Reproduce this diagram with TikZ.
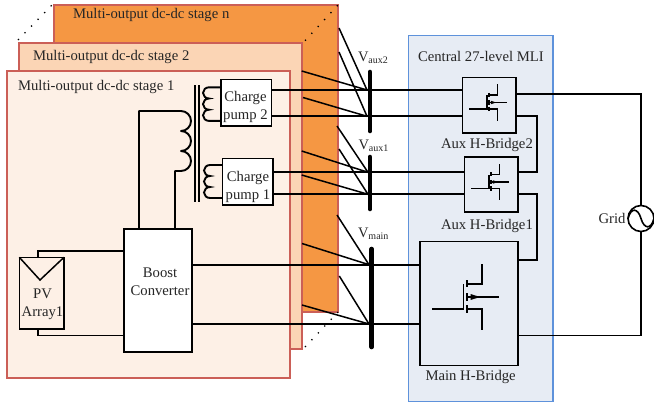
\documentclass[tikz,border=0pt]{standalone}
\usepackage{fontspec}
\setmainfont{Liberation Serif}
\usetikzlibrary{arrows.meta}
\definecolor{stageone}{HTML}{FDF0E6}
\definecolor{stagetwo}{HTML}{FBD5B5}
\definecolor{stagen}{HTML}{F59743}
\definecolor{stageedge}{HTML}{CB5F57}
\definecolor{mlifill}{HTML}{E7ECF4}
\definecolor{mliedge}{HTML}{5E92DB}
\definecolor{ink}{HTML}{262626}
\newcommand{\vlabel}[2]{{\fontsize{14.5}{14}\selectfont #1}\raisebox{-1.5pt}{\fontsize{10}{10}\selectfont #2}}
\tikzset{
  x=1pt,y=-1pt,
  every node/.style={outer sep=0pt},
  stagebox/.style={draw=stageedge,line width=1.5pt,inner sep=0,anchor=north west},
  mlibox/.style={draw=mliedge,fill=mlifill,line width=1.4pt,inner sep=0,anchor=north west},
  blockbox/.style={draw=black,fill=white,line width=1.6pt,inner sep=0,anchor=north west},
  boostbox/.style={draw=black,fill=white,line width=2pt,inner sep=0,anchor=north west},
  bridgebox/.style={draw=black,line width=1.6pt,inner sep=0,anchor=north west},
  txt/.style={inner sep=0,text=ink,font=\fontsize{14.7}{18}\selectfont,align=center},
  wire/.style={draw=black,line width=1.7pt},
  thickwire/.style={draw=black,line width=1.9pt},
  busbar/.style={draw=black,line width=4.6pt,line cap=round},
  fan/.style={draw=black,line width=1.5pt},
  dotrow/.style={draw=black,line width=1.3pt,dash pattern=on 1.3pt off 8.1pt},
  pins/.style={draw=black,line width=1.5pt},
}
% transistor symbol: #1 origin (channel centre), #2 scale
\newcommand{\mosfet}[3]{%
  \begin{scope}[shift={(#1,#2)},scale=#3]
    \draw[pins,line width=1.5pt] (-35,12) -- (-3.5,12) -- (-3.5,-13);
    \draw[pins,line width=1.8pt] (0,-17) -- (0,-10) (0,-4) -- (0,4) (0,8) -- (0,16);
    \draw[pins] (0,-13) -- (15,-13) -- (15,-33);
    \draw[pins] (0,12) -- (15,12) -- (15,33);
    \draw[pins] (0,0) -- (32,0);
    \fill[black] (13,0) -- (3.5,-3) -- (3.5,3) -- cycle;
  \end{scope}}
\begin{document}
\begin{tikzpicture}
\useasboundingbox (0,0) rectangle (654,405);
% dc-dc stages
\node[stagebox,fill=stagen,minimum width=284pt,minimum height=307pt] (stn) at (54,5) {};
\node[stagebox,fill=stagetwo,minimum width=283pt,minimum height=306pt] (st2) at (19,43) {};
\node[stagebox,fill=stageone,minimum width=283pt,minimum height=307pt] (st1) at (7,71) {};
\draw[dotrow] (18,40) -- (52,5);
\draw[dotrow] (305,40.7) -- (338,5);
\draw[dotrow] (305,347) -- (338,312);
\node[txt,anchor=west] (tn) at (73,15) {Multi-output dc-dc stage n};
\node[txt,anchor=west] (t2) at (33,56.5) {Multi-output dc-dc stage 2};
\node[txt,anchor=west] (t1) at (18,86.5) {Multi-output dc-dc stage 1};
% central MLI
\node[mlibox,minimum width=144.7pt,minimum height=366pt] (mli) at (408.3,35.7) {};
\node[txt,anchor=west] (tm) at (418,56.7) {Central 27-level MLI};
% transformer
\coordinate (coreAt) at (195,85); \coordinate (coreAb) at (195,202);
\coordinate (coreBt) at (199.3,85); \coordinate (coreBb) at (199.3,202);
\draw[thickwire] (coreAt) -- (coreAb) (coreBt) -- (coreBb);
% blocks
\node[blockbox,minimum width=50.6pt,minimum height=46.7pt] (cp2) at (220.7,79.3) {};
\node[blockbox,minimum width=50.7pt,minimum height=46.7pt] (cp1) at (222.3,158.3) {};
\node[boostbox,minimum width=67.4pt,minimum height=122.7pt] (boost) at (124.3,229.3) {};
\node[blockbox,fill=none,minimum width=44.7pt,minimum height=71.4pt] (pv) at (19.3,257.3) {};
\node[txt] (cp2t) at (245.5,107) {Charge\\pump 2};
\node[txt] (cp1t) at (248,187) {Charge\\pump 1};
\node[txt] (boostt) at (160,282) {Boost\\Converter};
\node[txt] (pvt) at (42.5,304) {PV\\Array1};
\draw[line width=1.5pt] (pv.north west) -- (40,280) -- (pv.north east);
% coils
\draw[thickwire,line join=round] (boost.north -| 139,229) -- (139,111) -- (181,111)
  arc[start angle=-90,end angle=90,x radius=10,y radius=10]
  arc[start angle=-90,end angle=90,x radius=10,y radius=10]
  arc[start angle=-90,end angle=90,x radius=10,y radius=10]
  -- (175,171) -- (boost.north -| 175,229);
\draw[thickwire] (cp2.west |- 0,87.3) -- (209,87.3)
  arc[start angle=-90,end angle=-270,x radius=6,y radius=5.6]
  arc[start angle=-90,end angle=-270,x radius=6,y radius=5.6]
  arc[start angle=-90,end angle=-270,x radius=6,y radius=5.6]
  -- (cp2.west |- 0,120.9);
\draw[thickwire] (cp1.west |- 0,165) -- (210,165)
  arc[start angle=-90,end angle=-270,x radius=6,y radius=5.5]
  arc[start angle=-90,end angle=-270,x radius=6,y radius=5.5]
  arc[start angle=-90,end angle=-270,x radius=6,y radius=5.5]
  -- (cp1.west |- 0,198);
% PV to boost
\draw[wire] (38,257.3) -- (38,251) -- (boost.west |- 0,251);
\draw[wire] (38,328.7) -- (38,335.5) -- (boost.west |- 0,335.5);
% H-bridges
\node[bridgebox,minimum width=53.7pt,minimum height=55.4pt] (hb2) at (462.3,77.3) {};
\node[bridgebox,minimum width=53.4pt,minimum height=55pt] (hb1) at (464.3,156.7) {};
\node[bridgebox,minimum width=98pt,minimum height=124pt] (hbm) at (420,241.3) {};
\mosfet{489}{102.5}{0.56}
\mosfet{491}{182}{0.56}
\mosfet{467}{297}{1}
\node[txt,anchor=west] (t3) at (441,144.5) {Aux H-Bridge2};
\node[txt,anchor=west] (t4) at (441,226) {Aux H-Bridge1};
\node[txt,anchor=west] (t5) at (425.5,376.5) {Main H-Bridge};
% bus bars
\coordinate (b2t) at (370,72); \coordinate (b2b) at (370,131);
\coordinate (b1t) at (370,157); \coordinate (b1b) at (370,209);
\coordinate (bmt) at (371.7,249); \coordinate (bmb) at (371.7,347);
\draw[busbar] (b2t) -- (b2b);
\draw[busbar] (b1t) -- (b1b);
\draw[busbar] (bmt) -- (bmb);
\node[txt,anchor=west] (v2) at (358,58) {\vlabel{V}{aux2}};
\node[txt,anchor=west] (v1) at (358.5,146) {\vlabel{V}{aux1}};
\node[txt,anchor=west] (vm) at (358,234) {\vlabel{V}{main}};
% horizontal wires
\draw[wire] (cp2.east |- 0,90) -- (hb2.west |- 0,90);
\draw[wire] (cp2.east |- 0,116.3) -- (hb2.west |- 0,116.3);
\draw[wire] (cp1.east |- 0,172.3) -- (hb1.west |- 0,172.3);
\draw[wire] (cp1.east |- 0,194.3) -- (hb1.west |- 0,194.3);
\draw[wire] (boost.east |- 0,264.7) -- (hbm.west |- 0,264.7);
\draw[wire] (boost.east |- 0,324) -- (hbm.west |- 0,324);
% fans
\coordinate (j2a) at (367,90); \coordinate (j2b) at (367,116.3);
\coordinate (j1a) at (368,172.3); \coordinate (j1b) at (368,194.3);
\coordinate (jma) at (369,264.7); \coordinate (jmb) at (369,324);
\coordinate (fa1) at (339,28); \coordinate (fa2) at (301.7,71);
\coordinate (fb1) at (339,52); \coordinate (fb2) at (303,97.5);
\coordinate (fc1) at (337,126); \coordinate (fc2) at (301.7,151);
\coordinate (fd1) at (339,149); \coordinate (fd2) at (301.7,175);
\coordinate (fe1) at (337,215); \coordinate (fe2) at (302,243.5);
\coordinate (ff1) at (339.3,276); \coordinate (ff2) at (302,305);
\draw[fan] (fa1) -- (j2a) (fa2) -- (j2a) (fb1) -- (j2b) (fb2) -- (j2b);
\draw[fan] (fc1) -- (j1a) (fc2) -- (j1a) (fd1) -- (j1b) (fd2) -- (j1b);
\draw[fan] (fe1) -- (jma) (fe2) -- (jma) (ff1) -- (jmb) (ff2) -- (jmb);
% grid
\node[draw=black,line width=1.6pt,circle,minimum size=26pt,inner sep=0] (grid) at (641,218.5) {};
\node[txt,anchor=east] (gt) at (625.5,218.5) {Grid};
\draw[line width=1.6pt] (grid.west) .. controls (631,207) and (638,208) .. (641,218.5)
  .. controls (644,229) and (651,230) .. (grid.east);
% bridge and grid wires
\draw[wire] (hb2.east |- 0,94) -- (641,94) -- (grid.north);
\draw[wire] (hbm.east |- 0,335.5) -- (641,335.5) -- (grid.south);
\draw[wire] (hb2.east |- 0,116.3) -- (536.7,116.3) -- (536.7,172.3) -- (hb1.east |- 0,172.3);
\draw[wire] (hb1.east |- 0,194.3) -- (536.7,194.3) -- (536.7,260) -- (hbm.east |- 0,260);
\end{tikzpicture}
\end{document}
